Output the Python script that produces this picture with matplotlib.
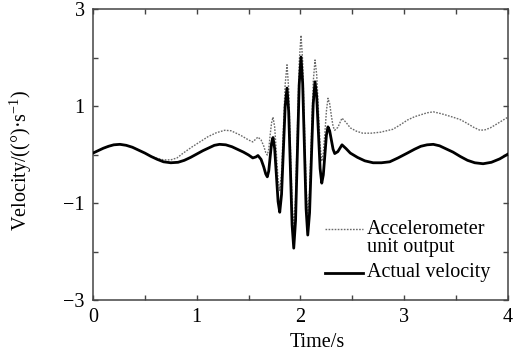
import matplotlib
matplotlib.use("Agg")
import matplotlib.pyplot as plt
from matplotlib.ticker import MultipleLocator

plt.rcParams["font.family"] = "serif"
plt.rcParams["font.serif"] = ["Liberation Serif", "DejaVu Serif"]
plt.rcParams["mathtext.fontset"] = "custom"
plt.rcParams["mathtext.rm"] = "Liberation Serif"
plt.rcParams["mathtext.it"] = "Liberation Serif:italic"
plt.rcParams["font.size"] = 14.5

# (time [s], velocity)
actual_velocity = [
    (0.00, 0.03), (0.05, 0.08), (0.10, 0.13), (0.15, 0.17), (0.20, 0.20),
    (0.26, 0.21), (0.32, 0.19), (0.38, 0.15), (0.44, 0.09), (0.50, 0.03),
    (0.56, -0.04), (0.62, -0.10), (0.68, -0.15), (0.75, -0.17), (0.82, -0.16),
    (0.88, -0.12), (0.94, -0.06), (1.00, 0.01), (1.06, 0.08), (1.12, 0.14),
    (1.17, 0.19), (1.22, 0.21), (1.28, 0.20), (1.34, 0.16), (1.40, 0.10),
    (1.45, 0.05), (1.50, -0.01), (1.54, -0.07), (1.57, -0.05), (1.59, -0.02),
    (1.62, -0.10), (1.645, -0.25), (1.665, -0.40), (1.68, -0.46),
    (1.694, -0.34), (1.7075, -0.05), (1.721, 0.23), (1.735, 0.35),
    (1.751, 0.12), (1.7675, -0.42), (1.784, -0.97), (1.80, -1.19),
    (1.8175, -0.82), (1.835, 0.09), (1.8525, 1.00), (1.87, 1.37),
    (1.886, 0.89), (1.9025, -0.28), (1.919, -1.45), (1.935, -1.93),
    (1.9525, -1.36), (1.97, 0.04), (1.9875, 1.44), (2.005, 2.01),
    (2.021, 1.47), (2.0375, 0.18), (2.054, -1.12), (2.07, -1.66),
    (2.0875, -1.20), (2.105, -0.08), (2.1225, 1.04), (2.14, 1.50),
    (2.156, 1.20), (2.1725, 0.46), (2.189, -0.29), (2.205, -0.59),
    (2.22, -0.42), (2.235, -0.01), (2.25, 0.40), (2.265, 0.57),
    (2.281, 0.49), (2.2975, 0.30), (2.314, 0.11), (2.33, 0.02),
    (2.36, 0.06), (2.40, 0.20), (2.44, 0.12), (2.48, 0.03), (2.55, -0.06),
    (2.62, -0.13), (2.70, -0.17), (2.78, -0.17), (2.86, -0.15), (2.94, -0.07),
    (3.03, 0.03), (3.10, 0.11), (3.16, 0.17), (3.22, 0.20), (3.28, 0.21),
    (3.34, 0.18), (3.40, 0.12), (3.47, 0.05), (3.54, -0.04), (3.61, -0.12),
    (3.68, -0.17), (3.76, -0.19), (3.84, -0.16), (3.92, -0.09), (4.00, 0.01),
]

accel_output = [
    (0.00, 0.03), (0.10, 0.13), (0.20, 0.20), (0.26, 0.21), (0.32, 0.19),
    (0.38, 0.15), (0.44, 0.09), (0.50, 0.03), (0.56, -0.04), (0.62, -0.08),
    (0.68, -0.11), (0.75, -0.11), (0.81, -0.07), (0.87, 0.03), (0.95, 0.15),
    (1.03, 0.26), (1.11, 0.37), (1.19, 0.45), (1.27, 0.50), (1.33, 0.49),
    (1.42, 0.40), (1.50, 0.30), (1.54, 0.26), (1.57, 0.32), (1.59, 0.36),
    (1.62, 0.30), (1.645, 0.18), (1.665, 0.04), (1.68, -0.01),
    (1.694, 0.11), (1.7075, 0.40), (1.721, 0.65), (1.735, 0.77),
    (1.751, 0.57), (1.7675, 0.03), (1.784, -0.52), (1.80, -0.74),
    (1.8175, -0.37), (1.835, 0.54), (1.8525, 1.45), (1.87, 1.85),
    (1.886, 1.36), (1.9025, 0.17), (1.919, -1.00), (1.935, -1.48),
    (1.9525, -0.90), (1.97, 0.49), (1.9875, 1.89), (2.005, 2.46),
    (2.021, 1.92), (2.0375, 0.62), (2.054, -0.67), (2.07, -1.21),
    (2.0875, -0.75), (2.105, 0.37), (2.1225, 1.49), (2.14, 1.95),
    (2.156, 1.65), (2.1725, 0.93), (2.189, 0.19), (2.205, -0.14),
    (2.22, 0.03), (2.235, 0.44), (2.25, 0.90), (2.265, 1.16),
    (2.281, 1.05), (2.2975, 0.80), (2.314, 0.58), (2.33, 0.50),
    (2.36, 0.56), (2.40, 0.75), (2.44, 0.66), (2.48, 0.55), (2.54, 0.48),
    (2.60, 0.44), (2.68, 0.44), (2.77, 0.46), (2.89, 0.52), (2.96, 0.61),
    (3.03, 0.71), (3.10, 0.78), (3.16, 0.82), (3.22, 0.86), (3.28, 0.88),
    (3.36, 0.84), (3.47, 0.77), (3.54, 0.72), (3.60, 0.65), (3.67, 0.56),
    (3.73, 0.50), (3.78, 0.51), (3.83, 0.55), (3.90, 0.64), (3.96, 0.72),
    (4.00, 0.77),
]

x_ticks = [0, 1, 2, 3, 4]
y_ticks = [-3, -2, -1, 0, 1, 2, 3]
y_tick_labels = ["\u22123", "", "\u22121", "", "1", "", "3"]

t_act, v_act = zip(*actual_velocity)
t_acc, v_acc = zip(*accel_output)

fig = plt.figure(figsize=(5.18, 3.53), dpi=100)
ax = fig.add_axes([0.1795, 0.150, 0.8012, 0.8245])

ax.plot(t_acc, v_acc, color="#6a6a6a", lw=1.0, ls=(0, (1.2, 1.0)), zorder=2)
ax.plot(t_act, v_act, color="black", lw=2.0, zorder=3)

ax.set_xlim(0, 4)
ax.set_ylim(-3, 3)
ax.set_xticks(x_ticks)
ax.xaxis.set_minor_locator(MultipleLocator(0.5))
ax.set_yticks(y_ticks)
ax.set_yticklabels(y_tick_labels)

ax.tick_params(which="both", direction="in", top=True, right=True,
               length=3.5, width=1.0, color="#444444")
ax.tick_params(axis="x", pad=6)
ax.tick_params(axis="y", pad=6)
for s in ax.spines.values():
    s.set_color("#444444")
    s.set_linewidth(1.1)

ax.set_xlabel("Time/s")
ax.xaxis.set_label_coords(0.54, -0.112)
ax.set_ylabel("Velocity/((\u00b0)\u00b7s$^{-1}$)")
ax.yaxis.set_label_coords(-0.142, 0.48)

# legend drawn by hand so the dotted sample sits on the first text line
ax.plot([0.559, 0.651], [0.244, 0.244], transform=ax.transAxes,
        color="#6a6a6a", lw=1.0, ls=(0, (1.2, 1.0)))
ax.plot([0.559, 0.651], [0.093, 0.093], transform=ax.transAxes,
        color="black", lw=2.0)
ax.text(0.660, 0.244, "Accelerometer", transform=ax.transAxes,
        ha="left", va="center")
ax.text(0.660, 0.182, "unit output", transform=ax.transAxes,
        ha="left", va="center")
ax.text(0.660, 0.093, "Actual velocity", transform=ax.transAxes,
        ha="left", va="center")

fig.savefig("out.png", dpi=100)
